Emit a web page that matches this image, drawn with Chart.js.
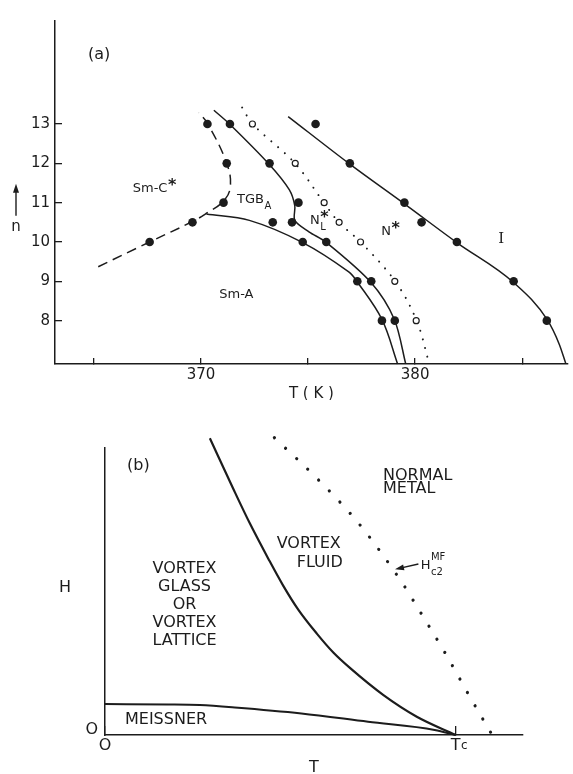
<!DOCTYPE html>
<html>
<head>
<meta charset="utf-8">
<script src="https://cdn.jsdelivr.net/npm/chart.js@4.4.1/dist/chart.umd.min.js"></script>
<style>
  html, body { margin: 0; padding: 0; background: #fff; }
  canvas { position: absolute; left: 0; }
  #chartA { top: 0; }
  #chartB { top: 400px; }
</style>
</head>
<body>
<canvas id="chartA" width="573" height="400"></canvas>
<canvas id="chartB" width="573" height="374"></canvas>
<script>
// ---------- panel (a) : T (K) against n ----------
const tTicks = [365, 370, 375, 380, 385];
const tTickLabels = ["", "370", "", "380", ""];
const nTicks = [8, 9, 10, 11, 12, 13];

// filled dots (T, n)
const dotT = [367.6, 369.6, 371.05, 371.2, 370.3,
              373.35, 374.25, 374.55, 373.2, 371.35,
              374.75, 377.3, 378.45,
              375.85, 377.95, 379.05,
              386.15, 384.6, 381.95, 380.3, 379.5, 376.95, 375.35];
const dotN = [10, 10.5, 11, 12, 13,
              10.5, 10.5, 11, 12, 13,
              10, 9, 8,
              10, 9, 8,
              8, 9, 10, 10.5, 11, 12, 13];

// open circles on the dotted line
const ringT = [380.05, 379.05, 377.45, 376.45, 375.75, 374.4, 372.4];
const ringN = [8, 9, 10, 10.5, 11, 12, 13];

// phase boundaries
const smcLineT = [365.2, 367.6, 369.6, 370.2, 371.05, 371.37, 371.2, 370.32, 369.9];
const smcLineN = [9.37, 10.0, 10.52, 10.71, 11.04, 11.41, 12.0, 13.0, 13.29];

const smaLineT = [370.25, 372.26, 374.73, 376.9, 377.32, 378.45, 379.18];
const smaLineN = [10.71, 10.55, 9.99, 9.24, 8.97, 8.03, 6.9];

const tgbLineT = [370.6, 371.33, 373.19, 374.12, 374.38, 374.38, 375.04, 375.85, 377.94, 379.03, 379.56];
const tgbLineN = [13.35, 13.0, 11.97, 11.33, 10.92, 10.55, 10.26, 9.99, 8.97, 8.03, 6.9];

const nLineT = [371.92, 372.41, 374.39, 375.74, 376.44, 377.45, 379.07, 380.07, 380.66];
const nLineN = [13.42, 13.0, 12.0, 11.0, 10.5, 10.0, 9.0, 8.0, 6.9];

const iLineT = [374.07, 376.95, 379.5, 381.96, 384.6, 386.16, 386.73, 387.04];
const iLineN = [13.19, 11.98, 10.97, 9.98, 8.97, 8.03, 7.4, 6.9];

// ---------- panel (b) : T against H ----------
const hTicks = [0];
const hTickLabels = ["O"];
const tbTicks = [0, 1];
const tbTickLabels = ["O", "T"];

const hc1T = [0, 0.18, 0.27, 0.37, 0.56, 0.75, 0.94, 1.0];
const hc1H = [0.103, 0.102, 0.1, 0.092, 0.072, 0.044, 0.017, 0];

const meltT = [0.299, 0.366, 0.414, 0.466, 0.508, 0.551, 0.604, 0.651, 0.70, 0.794, 0.889, 1.0];
const meltH = [0.989, 0.82, 0.703, 0.587, 0.498, 0.418, 0.338, 0.275, 0.222, 0.133, 0.061, 0];

const hc2T = [0.483, 0.604, 0.725, 0.848, 0.9, 0.972, 1.043, 1.104];
const hc2H = [0.991, 0.856, 0.703, 0.506, 0.408, 0.269, 0.122, 0];

const ink = "#1c1c1c";
const font = "DejaVu Sans";

function pts(xs, ys) {
  return xs.map(function (x, i) { return { x: x, y: ys[i] }; });
}

function fixedTicks(values) {
  return function (scale) {
    scale.ticks = values.map(function (v) { return { value: v }; });
  };
}

function curve(xs, ys, extra) {
  var ds = {
    data: pts(xs, ys),
    showLine: true,
    borderColor: ink,
    backgroundColor: ink,
    borderWidth: 1.5,
    tension: 0.35,
    pointRadius: 0,
    clip: false
  };
  return Object.assign(ds, extra || {});
}

// text labels drawn on top, placed in data units
function notes(items, arrows, yTitle) {
  return {
    id: "notes",
    afterDraw: function (chart) {
      var ctx = chart.ctx;
      var sx = chart.scales.x, sy = chart.scales.y;
      ctx.save();
      ctx.fillStyle = ink;
      ctx.strokeStyle = ink;
      ctx.textBaseline = "middle";
      items.forEach(function (it) {
        var x = sx.getPixelForValue(it.x);
        var y = sy.getPixelForValue(it.y);
        ctx.font = it.size + "px " + (it.family || font);
        ctx.textAlign = it.align || "left";
        ctx.fillText(it.text, x, y);
        var w = ctx.measureText(it.text).width;
        var small = Math.round(it.size * 0.78);
        ctx.textAlign = "left";
        if (it.sup) {
          ctx.font = (it.sup === "*" ? "bold " + (it.size + 3) : small) + "px " + font;
          ctx.fillText(it.sup, x + w + 0.5, y - it.size * (it.sup === "*" ? 0.2 : 0.62));
        }
        if (it.sub) {
          ctx.font = small + "px " + font;
          ctx.fillText(it.sub, x + w + 0.5, y + it.size * 0.55);
        }
      });
      arrows.forEach(function (a) {
        var x1 = sx.getPixelForValue(a.from[0]), y1 = sy.getPixelForValue(a.from[1]);
        var x2 = sx.getPixelForValue(a.to[0]), y2 = sy.getPixelForValue(a.to[1]);
        drawArrow(ctx, x1, y1, x2, y2);
      });
      if (yTitle) {
        var tx = chart.chartArea.left - yTitle.offset;
        ctx.font = yTitle.size + "px " + font;
        ctx.textAlign = "center";
        ctx.fillText(yTitle.text, tx, sy.getPixelForValue(yTitle.at));
        if (yTitle.arrow) {
          drawArrow(ctx, tx, sy.getPixelForValue(yTitle.arrow[0]), tx, sy.getPixelForValue(yTitle.arrow[1]));
        }
      }
      ctx.restore();
    }
  };
}

function drawArrow(ctx, x1, y1, x2, y2) {
  var ang = Math.atan2(y2 - y1, x2 - x1);
  var len = 9, half = 3;
  ctx.lineWidth = 1.4;
  ctx.beginPath();
  ctx.moveTo(x1, y1);
  ctx.lineTo(x2 - Math.cos(ang) * len * 0.6, y2 - Math.sin(ang) * len * 0.6);
  ctx.stroke();
  ctx.beginPath();
  ctx.moveTo(x2, y2);
  ctx.lineTo(x2 - Math.cos(ang) * len - Math.sin(ang) * half, y2 - Math.sin(ang) * len + Math.cos(ang) * half);
  ctx.lineTo(x2 - Math.cos(ang) * len + Math.sin(ang) * half, y2 - Math.sin(ang) * len - Math.cos(ang) * half);
  ctx.closePath();
  ctx.fill();
}

function axis(opts) {
  return Object.assign({
    type: "linear",
    border: { display: true, color: ink, width: 1.5 },
    grid: { drawOnChartArea: false, drawTicks: true, color: ink, lineWidth: 1.3 },
    ticks: { color: ink, font: { family: font, size: 15 }, autoSkip: false, maxRotation: 0 }
  }, opts);
}

Chart.defaults.font.family = font;
Chart.defaults.color = ink;

const notesA = [
  { text: "(a)", x: 364.72, y: 14.76, size: 16 },
  { text: "Sm-C", sup: "*", x: 366.81, y: 11.36, size: 13 },
  { text: "TGB", sub: "A", x: 371.68, y: 11.08, size: 13 },
  { text: "N", sup: "*", sub: "L", x: 375.09, y: 10.54, size: 13 },
  { text: "N", sup: "*", x: 378.42, y: 10.26, size: 13 },
  { text: "I", x: 384.02, y: 10.08, size: 15, align: "center", family: "DejaVu Serif" },
  { text: "Sm-A", x: 370.85, y: 8.66, size: 13 }
];

new Chart(document.getElementById("chartA"), {
  type: "scatter",
  data: {
    datasets: [
      { data: pts(dotT, dotN), pointRadius: 4.3, pointBackgroundColor: ink, pointBorderColor: ink,
        pointBorderWidth: 0, borderColor: ink, backgroundColor: ink, showLine: false },
      { data: pts(ringT, ringN), pointRadius: 3, pointBackgroundColor: "#fff", pointBorderColor: ink,
        pointBorderWidth: 1.2, borderColor: ink, backgroundColor: "#fff", showLine: false },
      curve(smcLineT, smcLineN, { borderDash: [10, 6], tension: 0.4 }),
      curve(smaLineT, smaLineN),
      curve(tgbLineT, tgbLineN, { tension: 0.3 }),
      curve(nLineT, nLineN, { borderDash: [0.01, 9], borderCapStyle: "round", borderWidth: 2 }),
      curve(iLineT, iLineN, { cubicInterpolationMode: "monotone" })
    ]
  },
  options: {
    responsive: false,
    animation: false,
    events: [],
    layout: { padding: { top: 8, right: 3, left: 0, bottom: 0 } },
    plugins: { legend: { display: false }, tooltip: { enabled: false }, colors: { enabled: false } },
    scales: {
      x: axis({
        min: 363.18, max: 387.13,
        afterBuildTicks: fixedTicks(tTicks),
        afterFit: function (s) { s.height = 36; },
        grid: { drawOnChartArea: false, drawTicks: true, tickLength: -6, color: ink, lineWidth: 1.3 },
        ticks: { color: ink, font: { family: font, size: 15 }, padding: 8, autoSkip: false, maxRotation: 0,
          callback: function (v, i) { return tTickLabels[i]; } },
        title: { display: true, text: "T ( K )", color: ink, font: { family: font, size: 15, lineHeight: 1 },
          padding: { top: 0, bottom: -2 } }
      }),
      y: axis({
        min: 6.897, max: 15.62,
        afterBuildTicks: fixedTicks(nTicks),
        afterFit: function (s) { s.width = 55; },
        grid: { drawOnChartArea: false, drawTicks: true, tickLength: -7, color: ink, lineWidth: 1.3 },
        ticks: { color: ink, font: { family: font, size: 15 }, padding: 12, autoSkip: false,
          callback: function (v) { return String(v); } }
      })
    }
  },
  plugins: [notes(notesA, [], { text: "n", size: 15, offset: 39, at: 10.38, arrow: [10.67, 11.48] })]
});

const notesB = [
  { text: "(b)", x: 0.0627, y: 0.8967, size: 16 },
  { text: "NORMAL", x: 0.7927, y: 0.8633, size: 16 },
  { text: "METAL", x: 0.7927, y: 0.819, size: 16 },
  { text: "VORTEX", x: 0.4896, y: 0.6367, size: 16 },
  { text: "FLUID", x: 0.5466, y: 0.5743, size: 16 },
  { text: "VORTEX", x: 0.2267, y: 0.5533, size: 16, align: "center" },
  { text: "GLASS", x: 0.2267, y: 0.4943, size: 16, align: "center" },
  { text: "OR", x: 0.2267, y: 0.4333, size: 16, align: "center" },
  { text: "VORTEX", x: 0.2267, y: 0.3723, size: 16, align: "center" },
  { text: "LATTICE", x: 0.2267, y: 0.3143, size: 16, align: "center" },
  { text: "MEISSNER", x: 0.057, y: 0.05, size: 16 },
  { text: "H", sup: "MF", sub: "c2", x: 0.9, y: 0.5657, size: 13 },
  { text: "c", x: 1.015, y: -0.036, size: 12 }
];
const arrowsB = [{ from: [0.8936, 0.57], to: [0.8269, 0.5523] }];

new Chart(document.getElementById("chartB"), {
  type: "scatter",
  data: {
    datasets: [
      curve(hc1T, hc1H, { borderWidth: 2, cubicInterpolationMode: "monotone" }),
      curve(meltT, meltH, { borderWidth: 2.2, cubicInterpolationMode: "monotone" }),
      curve(hc2T, hc2H, { borderDash: [0.01, 15.3], borderCapStyle: "round", borderWidth: 3.2,
        cubicInterpolationMode: "monotone" })
    ]
  },
  options: {
    responsive: false,
    animation: false,
    events: [],
    layout: { padding: { top: 47.7, right: 50.3, left: 0, bottom: 0 } },
    plugins: { legend: { display: false }, tooltip: { enabled: false }, colors: { enabled: false } },
    scales: {
      x: axis({
        min: 0, max: 1.191,
        afterBuildTicks: fixedTicks(tbTicks),
        afterFit: function (s) { s.height = 39; },
        grid: { drawOnChartArea: false, drawTicks: true, tickLength: -9, color: ink, lineWidth: 1.3 },
        ticks: { color: ink, font: { family: font, size: 16 }, padding: 10.4, autoSkip: false, maxRotation: 0,
          callback: function (v, i) { return tbTickLabels[i]; } },
        title: { display: true, text: "T", color: ink, font: { family: font, size: 16, lineHeight: 1 },
          padding: { top: 0, bottom: -2 } }
      }),
      y: axis({
        min: 0, max: 0.9577,
        afterBuildTicks: fixedTicks(hTicks),
        afterFit: function (s) { s.width = 105; },
        grid: { drawOnChartArea: false, drawTicks: false, color: ink },
        ticks: { color: ink, font: { family: font, size: 16 }, padding: 7, labelOffset: -5, autoSkip: false,
          callback: function (v, i) { return hTickLabels[i]; } }
      })
    }
  },
  plugins: [notes(notesB, arrowsB, { text: "H", size: 16, offset: 40, at: 0.49 })]
});
</script>
</body>
</html>
